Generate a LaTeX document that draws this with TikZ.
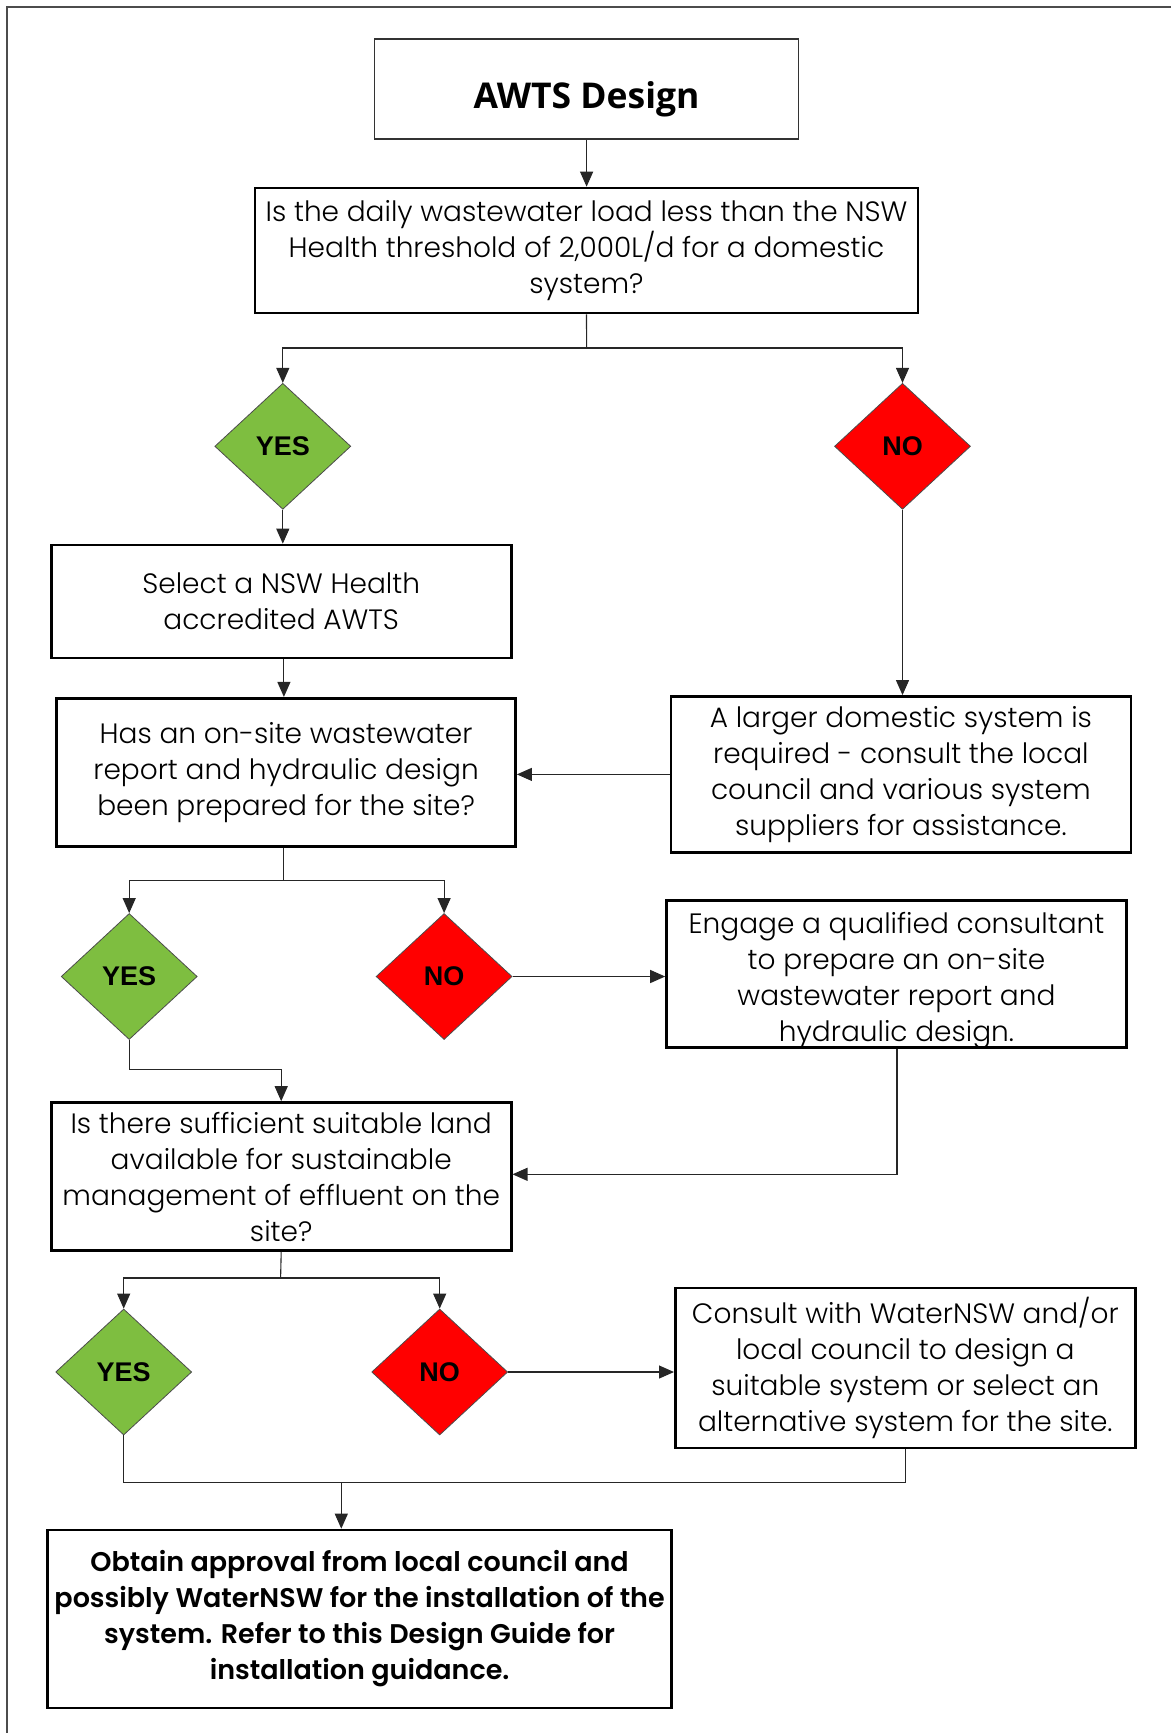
\documentclass[tikz,border=0pt]{standalone}
\usepackage{fontspec}
\setmainfont{Poppins Light}[BoldFont={Poppins SemiBold}]
\newfontfamily\titlefont{Open Sans}
\newfontfamily\yesfont{Liberation Sans}
\usetikzlibrary{shapes.geometric,arrows.meta}
\definecolor{yesgreen}{RGB}{126,190,64}
\definecolor{nored}{RGB}{255,0,0}
\tikzset{
  box/.style={draw=black, line width=2.6pt, rectangle, align=center, inner sep=0pt,
    font=\fontsize{28}{36}\selectfont},
  thinbox/.style={draw=black!80, line width=1.1pt, rectangle, align=center, inner sep=0pt,
    font=\titlefont\bfseries\fontsize{35.5}{40}\selectfont},
  finalbox/.style={box, font=\bfseries\fontsize{27}{36}\selectfont},
  dec/.style={diamond, draw=black!70, line width=0.8pt, inner sep=0pt, aspect=1,
    minimum width=136pt, minimum height=126pt, font=\yesfont\bfseries\fontsize{27}{30}\selectfont},
  yesd/.style={dec, fill=yesgreen},
  nod/.style={dec, fill=nored},
  conn/.style={draw=black!85, line width=1.1pt},
  arr/.style={conn, -{Triangle[length=15pt,width=13pt]}},
}
\begin{document}
\begin{tikzpicture}[x=1pt,y=-1pt]
\useasboundingbox (0,0) rectangle (1171,1733);
\draw[black!70, line width=1.2pt] (7,1733) -- (7,7) -- (1171,7);

\node[thinbox, minimum width=424pt, minimum height=100pt] (awts) at (586.6,89) {\raisebox{-19pt}[0pt][0pt]{AWTS Design}};
\node[box, minimum width=663pt, minimum height=125pt] (q1) at (586.5,250.5)
  {Is the daily wastewater load less than the NSW\\Health threshold of 2,000L/d for a domestic\\system?};
\node[yesd] (yes1) at (282.8,446.3) {YES};
\node[nod] (no1) at (902.5,446.3) {NO};
\node[box, minimum width=460pt, minimum height=113pt] (select) at (281.2,601.5)
  {Select a NSW Health\\accredited AWTS};
\node[box, minimum width=459pt, minimum height=148pt] (q2) at (286.1,772.2)
  {Has an on-site wastewater\\report and hydraulic design\\been prepared for the site?};
\node[box, minimum width=460pt, minimum height=156pt] (larger) at (900.9,774.4)
  {A larger domestic system is\\required - consult the local\\council and various system\\suppliers for assistance.};
\node[yesd] (yes2) at (129.2,976.5) {YES};
\node[nod] (no2) at (444.1,976.5) {NO};
\node[box, minimum width=460pt, minimum height=147pt] (engage) at (896.5,973.8)
  {\raisebox{-6pt}[\height][\depth]{\begin{tabular}{@{}c@{}}Engage a qualified consultant\\to prepare an on-site\\wastewater report and\\hydraulic design.\end{tabular}}};
\node[box, minimum width=460pt, minimum height=148pt] (q3) at (281.2,1176.5)
  {Is there sufficient suitable land\\available for sustainable\\management of effluent on the\\site?};
\node[yesd] (yes3) at (123.7,1372) {YES};
\node[nod] (no3) at (439.7,1372) {NO};
\node[box, minimum width=460pt, minimum height=160pt] (consult) at (905.3,1368)
  {Consult with WaterNSW and/or\\local council to design a\\suitable system or select an\\alternative system for the site.};
\node[finalbox, minimum width=624pt, minimum height=178pt] (final) at (359.6,1619)
  {Obtain approval from local council and\\possibly WaterNSW for the installation of the\\system. Refer to this Design Guide for\\installation guidance.};

\coordinate (j1) at (586.6,348);
\coordinate (j2) at (283.9,880.5);
\coordinate (j3) at (280.6,1278);
\coordinate (k2) at (129.2,1069.3);
\coordinate (k3) at (897,1174.3);
\coordinate (m3) at (123.7,1482.5);
\coordinate (m4) at (341.3,1482.5);

\draw[arr] (awts.south) -- (awts.south |- q1.north);
\draw[conn] (q1.south) -- (j1);
\draw[arr] (j1) -| (yes1.north);
\draw[arr] (j1) -| (no1.north);
\draw[arr] (yes1.south) -- (yes1.south |- select.north);
\draw[arr] (no1.south) -- (no1.south |- larger.north);
\draw[arr] (select.south -| j2) -- (j2 |- q2.north);
\draw[arr] (larger.west) -- (larger.west -| q2.east);
\draw[conn] (j2 |- q2.south) -- (j2);
\draw[arr] (j2) -| (yes2.north);
\draw[arr] (j2) -| (no2.north);
\draw[arr] (no2.east) -- (no2.east -| engage.west);
\draw[arr] (yes2.south) -- (k2) -| (q3.north);
\draw[arr] (engage.south -| k3) -- (k3) -- (k3 -| q3.east);
\draw[conn] (q3.south) -- (j3);
\draw[arr] (j3) -| (yes3.north);
\draw[arr] (j3) -| (no3.north);
\draw[arr] (no3.east) -- (no3.east -| consult.west);
\draw[conn] (yes3.south) -- (m3) -| (consult.south);
\draw[arr] (m4) -- (m4 |- final.north);
\end{tikzpicture}
\end{document}
